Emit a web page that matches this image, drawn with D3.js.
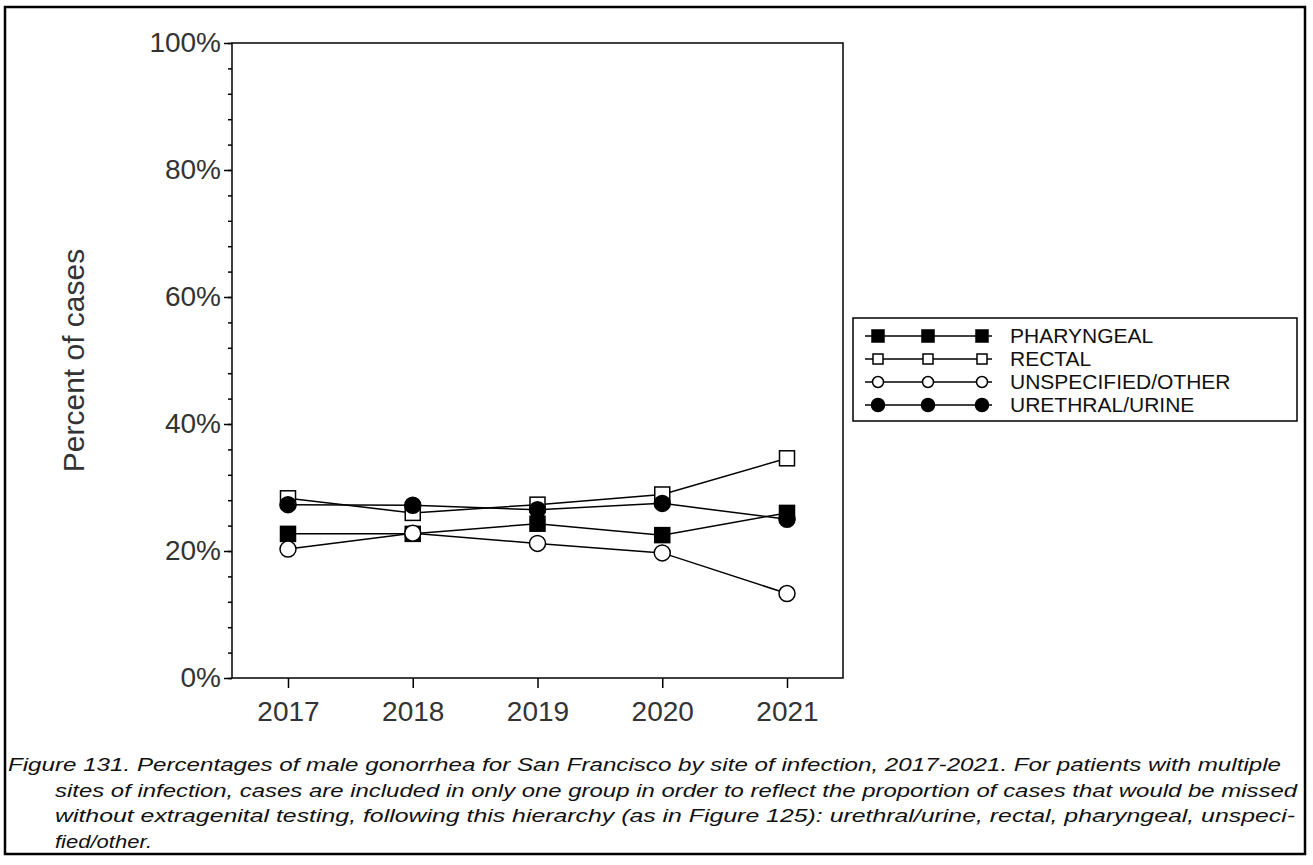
<!DOCTYPE html>
<html>
<head>
<meta charset="utf-8">
<script src="https://cdn.jsdelivr.net/npm/d3@7"></script>
<style>
  body { margin: 0; background: #fff; }
  svg text { font-family: "Liberation Sans", Arial, sans-serif; }
</style>
</head>
<body>
<div id="chart"></div>
<script>
// data
var years = [2017, 2018, 2019, 2020, 2021];
var pharyngeal  = [22.7, 22.7, 24.3, 22.5, 26.0];
var rectal      = [28.3, 26.0, 27.3, 28.9, 34.6];
var unspecified = [20.3, 22.8, 21.2, 19.7, 13.3];
var urethral    = [27.3, 27.2, 26.5, 27.5, 25.0];
var yTicks = [0, 20, 40, 60, 80, 100];
var seriesNames = ["PHARYNGEAL", "RECTAL", "UNSPECIFIED/OTHER", "URETHRAL/URINE"];
var captionLines = [
  "Figure 131. Percentages of male gonorrhea for San Francisco by site of infection, 2017-2021.  For patients with multiple",
  "sites of infection, cases are included in only one group in order to reflect the proportion of cases that would be missed",
  "without extragenital testing, following this hierarchy (as in Figure 125): urethral/urine, rectal, pharyngeal, unspeci-",
  "fied/other."
];

var series = [
  {name: seriesNames[0], values: pharyngeal, shape: "square", fill: "#000"},
  {name: seriesNames[1], values: rectal, shape: "square", fill: "#fff"},
  {name: seriesNames[2], values: unspecified, shape: "circle", fill: "#fff"},
  {name: seriesNames[3], values: urethral, shape: "circle", fill: "#000"}
];

var W = 1313, H = 865;
var svg = d3.select("#chart").append("svg")
  .attr("width", W).attr("height", H);

// outer figure border
svg.append("rect")
  .attr("x", 5).attr("y", 7).attr("width", 1300).attr("height", 847)
  .attr("fill", "none").attr("stroke", "#000").attr("stroke-width", 2.5);

var plot = {left: 232, top: 43, right: 843, bottom: 678};

var x = d3.scalePoint()
  .domain(years)
  .range([288, 787]);
var y = d3.scaleLinear()
  .domain([0, 100])
  .range([plot.bottom, plot.top]);

// plot frame
svg.append("rect")
  .attr("x", plot.left).attr("y", plot.top)
  .attr("width", plot.right - plot.left).attr("height", plot.bottom - plot.top)
  .attr("fill", "none").attr("stroke", "#000").attr("stroke-width", 1.5);

// y axis: minor ticks every 4%, major every 20%
var yMinor = d3.axisLeft(y).tickValues(d3.range(0, 101, 4)).tickSize(4).tickFormat("");
svg.append("g").attr("transform", "translate(" + plot.left + ",0)").call(yMinor)
  .call(g => g.select(".domain").remove())
  .selectAll("line").attr("stroke-width", 1.5);

var yAxis = d3.axisLeft(y).tickValues(yTicks).tickSize(8).tickPadding(3)
  .tickFormat(d => d + "%");
svg.append("g").attr("transform", "translate(" + plot.left + ",0)").call(yAxis)
  .call(g => g.select(".domain").remove())
  .call(g => g.selectAll("line").attr("stroke-width", 1.5))
  .selectAll("text")
    .attr("font-size", 28).attr("fill", "#333")
    .attr("font-family", "Liberation Sans, Arial, sans-serif");

var xAxis = d3.axisBottom(x).tickSize(10).tickPadding(13);
svg.append("g").attr("transform", "translate(0," + plot.bottom + ")").call(xAxis)
  .call(g => g.select(".domain").remove())
  .call(g => g.selectAll("line").attr("stroke-width", 1.5))
  .selectAll("text")
    .attr("font-size", 28).attr("fill", "#333")
    .attr("font-family", "Liberation Sans, Arial, sans-serif");

svg.append("text")
  .attr("transform", "translate(84," + ((plot.top + plot.bottom) / 2) + ") rotate(-90)")
  .attr("text-anchor", "middle")
  .attr("font-size", 30).attr("fill", "#333")
  .text("Percent of cases");

// lines
var line = d3.line()
  .x((d, i) => x(years[i]))
  .y(d => y(d));

svg.selectAll(".series-line")
  .data(series)
  .join("path")
  .attr("class", "series-line")
  .attr("d", d => line(d.values))
  .attr("fill", "none").attr("stroke", "#000").attr("stroke-width", 1.5);

function drawMarker(g, s, cx, cy, size) {
  if (s.shape == "square") {
    g.append("rect")
      .attr("x", cx - size / 2).attr("y", cy - size / 2)
      .attr("width", size).attr("height", size)
      .attr("fill", s.fill).attr("stroke", "#000").attr("stroke-width", 1.5);
  } else {
    g.append("circle")
      .attr("cx", cx).attr("cy", cy).attr("r", size / 2 + 0.5)
      .attr("fill", s.fill).attr("stroke", "#000").attr("stroke-width", 1.5);
  }
}

// markers: draw in series order so later ones sit on top
series.forEach(function(s) {
  var g = svg.append("g");
  s.values.forEach(function(v, i) {
    drawMarker(g, s, x(years[i]), y(v), 15);
  });
});

// legend
var leg = svg.append("g").attr("transform", "translate(853,318)");
leg.append("rect")
  .attr("width", 444).attr("height", 103)
  .attr("fill", "#fff").attr("stroke", "#000").attr("stroke-width", 1.5);

series.forEach(function(s, i) {
  var ly = 18 + i * 23;
  var row = leg.append("g");
  row.append("line")
    .attr("x1", 12).attr("x2", 139).attr("y1", ly).attr("y2", ly)
    .attr("stroke", "#000").attr("stroke-width", 1.5);
  [25, 75, 129].forEach(function(mx) {
    drawMarker(row, s, mx, ly, s.fill == "#000" ? 12 : 10);
  });
  row.append("text")
    .attr("x", 157).attr("y", ly + 7)
    .attr("font-size", 21).attr("fill", "#111")
    .text(s.name);
});

// caption
var cap = svg.append("g");
var capWidths = [1273, 1242, 1240, 97];
captionLines.forEach(function(t, i) {
  cap.append("text")
    .attr("x", i == 0 ? 8 : 55)
    .attr("y", 771 + i * 25.5)
    .attr("font-size", 19)
    .attr("font-style", "italic")
    .attr("font-family", "'Liberation Sans Narrow', 'DejaVu Sans Condensed', 'Liberation Sans', sans-serif")
    .attr("fill", "#111")
    .attr("textLength", capWidths[i])
    .attr("lengthAdjust", "spacingAndGlyphs")
    .text(t);
});
</script>
</body>
</html>
